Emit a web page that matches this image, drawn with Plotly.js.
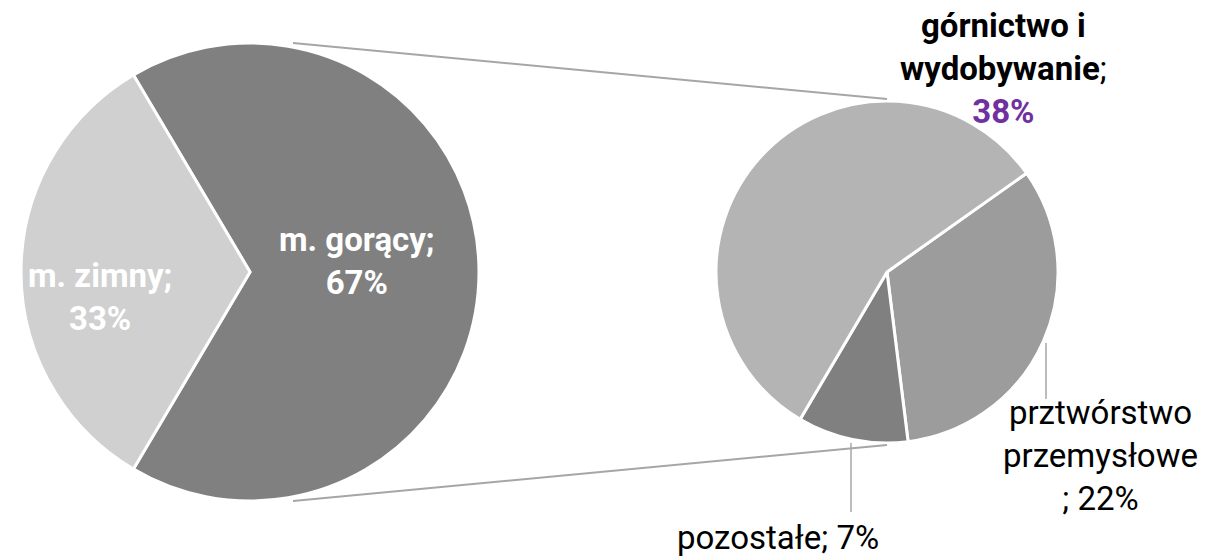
<!DOCTYPE html>
<html>
<head>
<meta charset="utf-8">
<script src="https://cdn.plot.ly/plotly-3.0.1.min.js"></script>
<style>html,body{margin:0;padding:0;background:#fff;}#chart{width:1224px;height:557px;}</style>
</head>
<body>
<div id="chart"></div>
<script>
// ---- data ----
const mainLabels = ['m. gorący', 'm. zimny'];
const mainValues = [67, 33];
const mainColors = ['#808080', '#d0d0d0'];

const detailLabels = ['prztwórstwo przemysłowe', 'pozostałe', 'górnictwo i wydobywanie'];
const detailLabelsWrapped = ['prztwórstwo<br>przemysłowe<br>', 'pozostałe', 'górnictwo i<br>wydobywanie'];
const detailValues = [22, 7, 38];
const detailColors = ['#9c9c9c', '#808080', '#b4b4b4'];

// ---- layout geometry (pixels) ----
const W = 1224, H = 557;
const L = {cx: 250, cy: 272, r: 229};
const R = {cx: 887, cy: 272, r: 171};
const px = x => x / W;
const py = y => 1 - y / H;
const FONT = 'Roboto, "Noto Sans", sans-serif';
const FS = 33;

const mainTotal = mainValues.reduce((a, b) => a + b, 0);
const detailSum = detailValues.reduce((a, b) => a + b, 0);
// first (exploded) slice centred on the right side
const mainRot = 90 - (mainValues[0] / mainTotal) * 360 / 2;

const traces = [
  {
    type: 'pie', labels: mainLabels, values: mainValues, sort: false,
    direction: 'clockwise', rotation: mainRot,
    marker: {colors: mainColors, line: {color: '#ffffff', width: 3}},
    textinfo: 'none', hoverinfo: 'label+value', showlegend: false,
    domain: {x: [px(L.cx - L.r), px(L.cx + L.r)], y: [py(L.cy + L.r), py(L.cy - L.r)]}
  },
  {
    type: 'pie', labels: detailLabels, values: detailValues, sort: false,
    direction: 'clockwise', rotation: 54.7,
    marker: {colors: detailColors, line: {color: '#ffffff', width: 3}},
    textinfo: 'none', hoverinfo: 'label+value', showlegend: false,
    domain: {x: [px(R.cx - R.r), px(R.cx + R.r)], y: [py(R.cy + R.r), py(R.cy - R.r)]}
  }
];

const ann = (x, y, text, color, extra) => Object.assign({
  xref: 'paper', yref: 'paper', x: px(x), y: py(y), text: text, showarrow: false,
  xanchor: 'center', yanchor: 'middle', align: 'center',
  font: {family: FONT, size: FS, color: color}
}, extra || {});

const annotations = [
  ann(357, 261, `<b>${mainLabels[0]};<br>${mainValues[0]}%</b>`, '#ffffff'),
  ann(100, 297, `<b>${mainLabels[1]};<br>${mainValues[1]}%</b>`, '#ffffff'),
  ann(1003, 68, `<b>${detailLabelsWrapped[2]}</b>;<br><b><span style="color:#7030a0">${detailValues[2]}%</span></b>`, '#000000'),
  ann(1100, 455, `${detailLabelsWrapped[0]}; ${detailValues[0]}%`, '#000000'),
  ann(778, 537, `${detailLabelsWrapped[1]}; ${detailValues[1]}%`, '#000000')
];

const lineStyle = {color: '#a6a6a6', width: 2};
const seg = (x0, y0, x1, y1, w) => ({
  type: 'line', xref: 'paper', yref: 'paper',
  x0: px(x0), y0: py(y0), x1: px(x1), y1: py(y1),
  line: {color: '#a6a6a6', width: w || 2}
});
const shapes = [
  // connector lines between the two pies
  seg(L.cx + 43, L.cy - L.r, R.cx, R.cy - R.r - 2),
  seg(L.cx + 43, L.cy + L.r, R.cx, R.cy + R.r + 2),
  // leader lines
  seg(851, 443, 851, 512, 1.5),
  seg(1046, 343, 1046, 399, 1.5)
];

const layout = {
  width: W, height: H,
  margin: {l: 0, r: 0, t: 0, b: 0},
  paper_bgcolor: '#ffffff', plot_bgcolor: '#ffffff',
  font: {family: FONT},
  annotations: annotations,
  shapes: shapes,
  showlegend: false
};

Plotly.newPlot('chart', traces, layout, {displayModeBar: false, staticPlot: true});
</script>
</body>
</html>
